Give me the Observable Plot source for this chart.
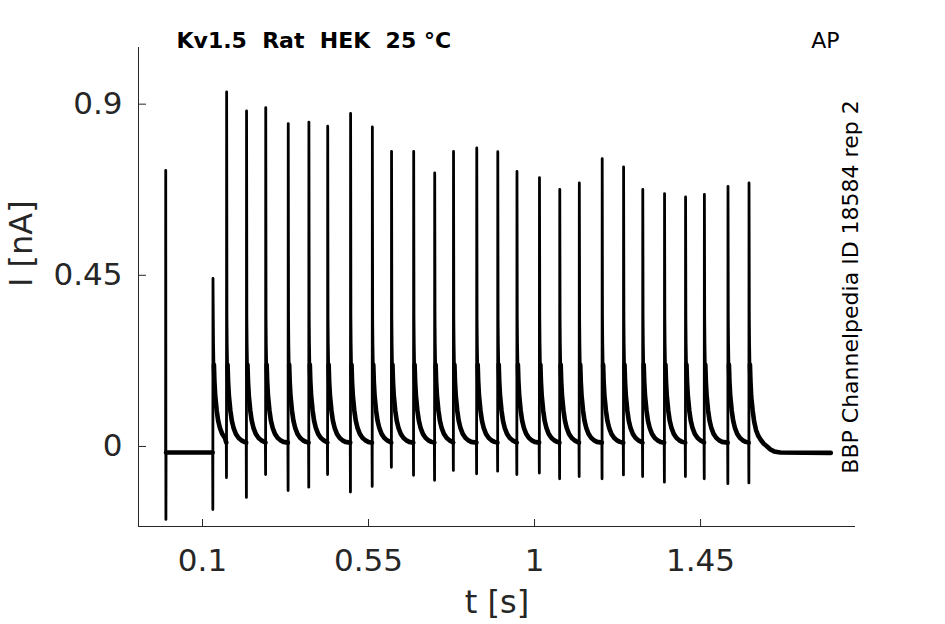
<!DOCTYPE html>
<html><head><meta charset="utf-8">
<script src="https://cdn.jsdelivr.net/npm/d3@7"></script>
<script src="https://cdn.jsdelivr.net/npm/@observablehq/plot@0.6"></script>
<style>
html,body{margin:0;padding:0;background:#fff;}
svg text{white-space:pre;}
</style></head><body><div id="chart"></div>
<script>
// ---- data ----
const titleText = "Kv1.5  Rat  HEK  25 °C";
const cornerText = "AP";
const sideText = "BBP Channelpedia ID 18584 rep 2";
const xLabel = "t [s]";
const yLabel = "I [nA]";
const xTicks = [0.1, 0.55, 1, 1.45];
const yTicks = [0, 0.45, 0.9];
const xDomain = [-0.0735, 1.87];
const yDomain = [-0.2105, 1.049];

// spike onset times (s), peak current (nA), trough current (nA)
const spikeT = [0.000, 0.128, 0.165, 0.219, 0.271, 0.332, 0.388, 0.439, 0.501, 0.560,
  0.612, 0.672, 0.729, 0.780, 0.843, 0.900, 0.952, 1.013, 1.068, 1.121,
  1.183, 1.241, 1.293, 1.352, 1.409, 1.460, 1.524, 1.581];
const spikePeak = [0.726, 0.442, 0.932, 0.882, 0.891, 0.849, 0.853, 0.842, 0.876, 0.840,
  0.776, 0.776, 0.719, 0.776, 0.785, 0.775, 0.723, 0.707, 0.676, 0.693,
  0.757, 0.735, 0.676, 0.665, 0.656, 0.663, 0.684, 0.693];
const spikeTrough = [-0.192, -0.166, -0.082, -0.134, -0.074, -0.116, -0.107, -0.074, -0.120, -0.105,
  -0.055, -0.076, -0.089, -0.063, -0.072, -0.065, -0.074, -0.070, -0.085, -0.079,
  -0.085, -0.075, -0.079, -0.094, -0.079, -0.085, -0.098, -0.096];

// decay after each spike (time after peak, s / current, nA)
const decayDt = [0.0008, 0.0015, 0.0025, 0.004, 0.006, 0.010, 0.014, 0.019, 0.025, 0.032, 0.040, 0.048];
const decayI  = [0.34, 0.27, 0.215, 0.17, 0.135, 0.095, 0.068, 0.048, 0.033, 0.023, 0.016, 0.012];
const holdI = 0.010;
// decay after the last spike
const tailDt = [0.0008, 0.0015, 0.0025, 0.004, 0.006, 0.010, 0.014, 0.019, 0.025, 0.032, 0.040, 0.049, 0.058, 0.068, 0.085];
const tailI  = [0.34, 0.27, 0.215, 0.17, 0.13, 0.093, 0.065, 0.043, 0.028, 0.017, 0.007, 0.000, -0.008, -0.013, -0.016];
const baselinePre = -0.016;
const baselinePost = -0.017;
const traceEnd = 1.803;

// ---- build trace ----
const trace = [];
const slow = [];
const n = spikeT.length;
// capacitive artifact at t = 0
trace.push({t: spikeT[0], i: baselinePre});
trace.push({t: spikeT[0] + 0.0003, i: spikePeak[0]});
trace.push({t: spikeT[0] + 0.0008, i: spikeTrough[0]});
trace.push({t: spikeT[0] + 0.0012, i: baselinePre});
trace.push({t: spikeT[1] - 0.0005, i: baselinePre});
slow.push({t: spikeT[0] + 0.0012, i: baselinePre, seg: 0});
slow.push({t: spikeT[1] - 0.0005, i: baselinePre, seg: 0});
for (let s = 1; s < n; s++) {
  const t0 = spikeT[s];
  trace.push({t: t0, i: spikeTrough[s]});
  trace.push({t: t0 + 0.0004, i: spikePeak[s]});
  const last = s === n - 1;
  const dts = last ? tailDt : decayDt;
  const vals = last ? tailI : decayI;
  const limit = last ? Infinity : spikeT[s + 1] - t0 - 0.002;
  for (let k = 0; k < dts.length; k++) {
    if (dts[k] >= limit) break;
    const p = {t: t0 + 0.0004 + dts[k], i: vals[k]};
    trace.push(p);
    if (vals[k] < 0.25) slow.push({...p, seg: s});
  }
  const endP = last ? {t: traceEnd, i: baselinePost} : {t: spikeT[s + 1] - 0.0005, i: holdI};
  trace.push(endP);
  slow.push({...endP, seg: s});
}

const axisColor = "#262626";
const chart = Plot.plot({
  width: 945, height: 624,
  marginLeft: 138, marginRight: 90, marginTop: 47, marginBottom: 98,
  style: {fontFamily: "DejaVu Sans", background: "#fff", color: axisColor, overflow: "visible"},
  x: {domain: xDomain},
  y: {domain: yDomain},
  marks: [
    Plot.ruleX([xDomain[0]], {stroke: axisColor, strokeWidth: 1}),
    Plot.ruleY([yDomain[0]], {stroke: axisColor, strokeWidth: 1}),
    Plot.axisX(xTicks, {anchor: "bottom", tickSize: -7, tickPadding: 29, fontSize: 31, label: null,
      tickFormat: d => String(d), stroke: axisColor, fill: axisColor}),
    Plot.axisY(yTicks, {anchor: "left", tickSize: -8, tickPadding: 24, fontSize: 31, label: null,
      tickFormat: d => String(d), stroke: axisColor, fill: axisColor}),
    Plot.line(slow, {x: "t", y: "i", z: "seg", stroke: "#000", strokeWidth: 4.6, strokeLinejoin: "round"}),
    Plot.line(trace, {x: "t", y: "i", stroke: "#000", strokeWidth: 2.8}),
    Plot.text([titleText], {frameAnchor: "top-left", dx: 38, dy: 0, lineAnchor: "bottom", textAnchor: "start",
      fontSize: 22, fontWeight: "bold", fill: "#000"}),
    Plot.text([cornerText], {frameAnchor: "top-right", dx: -16, dy: 0, lineAnchor: "bottom", textAnchor: "end",
      fontSize: 22, fill: "#000"}),
    Plot.text([sideText], {frameAnchor: "right", dx: -5, dy: 0, rotate: -90, lineAnchor: "middle", textAnchor: "middle",
      fontSize: 22, fill: "#000"}),
    Plot.text([xLabel], {frameAnchor: "bottom", dy: 76, lineAnchor: "middle", fontSize: 32, fill: axisColor}),
    Plot.text([yLabel], {frameAnchor: "left", dx: -117, rotate: -90, lineAnchor: "middle", fontSize: 32, fill: axisColor})
  ]
});
document.getElementById("chart").appendChild(chart);
</script></body></html>
